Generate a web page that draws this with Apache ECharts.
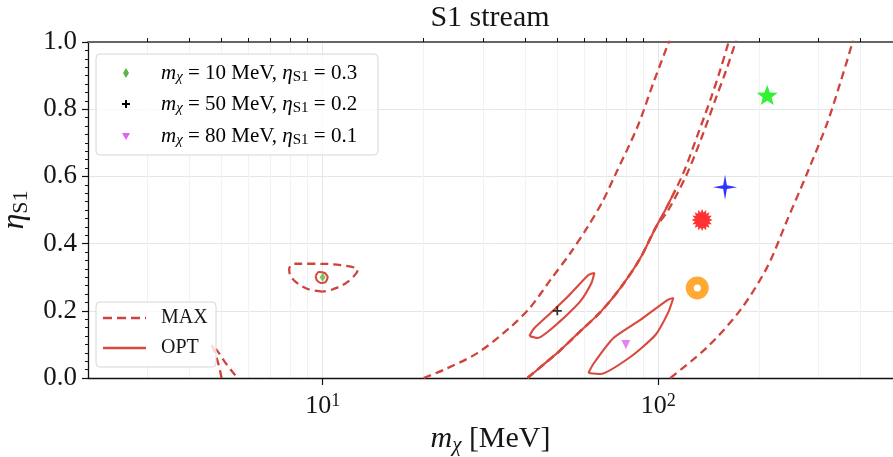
<!DOCTYPE html>
<html>
<head>
<meta charset="utf-8">
<script src="https://cdn.jsdelivr.net/npm/echarts@6/dist/echarts.min.js"></script>
<style>
  html, body { margin: 0; padding: 0; background: #ffffff; }
  #chart { width: 893px; height: 457px; }
</style>
</head>
<body>
<div id="chart"></div>
<script>
// ---- axes ----
const xRange = [2, 500];
const xMinorTicks = [3, 4, 5, 6, 7, 8, 9, 20, 30, 40, 50, 60, 70, 80, 90, 200, 300, 400];
const yRange = [0, 1];
const yStep = 0.2;

// ---- MAX contours (dashed), [m_chi in MeV, eta_S1] ----
const maxSmallLoop = [[10.0, 0.257], [9.02, 0.265], [8.31, 0.286], [7.98, 0.310], [7.95, 0.325],
  [8.25, 0.340], [9.40, 0.340], [11.31, 0.336], [12.71, 0.321], [11.87, 0.286], [10.78, 0.265], [10.0, 0.257]];
const maxLowTip = [[5.0, 0], [4.90, 0.039], [4.77, 0.077], [4.67, 0.098], [4.84, 0.083],
  [5.11, 0.048], [5.36, 0.021], [5.58, 0]];
const maxBandLeft = [[19.98, 0], [22.9, 0.024], [28.9, 0.074], [36.3, 0.152], [41.6, 0.211],
  [47.7, 0.292], [54.7, 0.372], [61.5, 0.449], [68.1, 0.524], [74.5, 0.606], [86.6, 0.747],
  [96.6, 0.878], [107.1, 0.997], [109, 1.02]];
const maxBandMidA = [[40.75, 0], [46.1, 0.045], [51.1, 0.083], [58.6, 0.140], [67.2, 0.196],
  [77.1, 0.268], [88.4, 0.357], [98.0, 0.446], [104.9, 0.500], [118.7, 0.610], [131.5, 0.729],
  [143.8, 0.836], [152.9, 0.917], [161.6, 0.997], [164, 1.02]];
const maxBandMidB = [[40.75, 0], [46.1, 0.045], [51.1, 0.083], [58.6, 0.140], [67.2, 0.196],
  [77.1, 0.268], [88.4, 0.357], [98.0, 0.446], [107.1, 0.500], [122.0, 0.610], [136.1, 0.729],
  [148.8, 0.836], [159.4, 0.917], [169.5, 0.997], [172, 1.02]];
const maxBandRight = [[108.6, 0], [139.9, 0.092], [175.4, 0.202], [211.0, 0.330], [242.0, 0.470],
  [277.6, 0.610], [318.5, 0.759], [348.1, 0.878], [378.0, 0.997], [381, 1.02]];

// ---- OPT contours (solid) ----
const optSmallLoop = [[9.53, 0.3036], [9.73, 0.3155], [10.14, 0.3125], [10.35, 0.3006], [10.21, 0.2857],
  [9.86, 0.2827], [9.60, 0.2917], [9.53, 0.3036]];
const optBandOuter = [[40.75, 0], [46.1, 0.045], [51.1, 0.083], [58.6, 0.140], [67.2, 0.196],
  [77.1, 0.268], [88.4, 0.357], [98.0, 0.446], [104.9, 0.500], [112.3, 0.560]];
const optLoop50 = [[41.3, 0.125], [43.6, 0.119], [51.1, 0.170], [58.6, 0.229], [63.2, 0.283],
  [64.5, 0.3125], [61.9, 0.3065], [53.6, 0.241], [47.7, 0.193], [42.5, 0.146], [41.3, 0.125]];
const optLoop80 = [[61.9, 0.0149], [67.2, 0.0119], [82.5, 0.0625], [98.0, 0.128], [107.1, 0.196],
  [110.8, 0.238], [106.4, 0.232], [88.4, 0.173], [73.5, 0.119], [64.0, 0.0417], [61.9, 0.0149]];

// ---- benchmark points ----
const bench10 = [[10, 0.3]];
const bench50 = [[50, 0.2]];
const bench80 = [[80, 0.1]];
const starPoint = [[211, 0.842]];
const sparklePoint = [[158, 0.568]];
const burstPoint = [[135, 0.470]];
const ringPoint = [[130.6, 0.268]];

// ---- styles ----
const SERIF = 'Liberation Serif';
const INK = '#161616';
const DASH_RED = '#d0433c';
const SOLID_RED = '#d9483c';

function starPath(n, rIn) {
  let d = '';
  for (let k = 0; k < 2 * n; k++) {
    const r = k % 2 ? rIn : 1;
    const a = Math.PI * k / n - Math.PI / 2;
    d += (k ? 'L' : 'M') + (r * Math.cos(a)).toFixed(3) + ',' + (r * Math.sin(a)).toFixed(3);
  }
  return 'path://' + d + 'Z';
}
const PLUS = 'path://M4,0H6V4H10V6H6V10H4V6H0V4H4Z';

function mathRich(size) {
  const sub = Math.round(size * 0.7);
  const drop = Math.round(size * 0.42);
  return {
    n: { fontFamily: SERIF, fontSize: size, color: INK },
    i: { fontFamily: SERIF, fontSize: size, fontStyle: 'italic', color: INK },
    s: { fontFamily: SERIF, fontSize: sub, color: INK, padding: [drop, 0, 0, 0] },
    si: { fontFamily: SERIF, fontSize: sub, fontStyle: 'italic', color: INK, padding: [drop, 0, 0, 0] },
    sup: { fontFamily: SERIF, fontSize: sub, color: INK, padding: [0, 0, drop, 0] }
  };
}

function dashed(data, smooth) {
  return { type: 'line', data, symbol: 'none', smooth: smooth == null ? 0.3 : smooth, silent: true,
    lineStyle: { color: DASH_RED, width: 2.3, type: [8, 5] }, z: 3 };
}
function solid(data, smooth) {
  return { type: 'line', data, symbol: 'none', smooth: smooth, silent: true,
    lineStyle: { color: SOLID_RED, width: 2.1, type: 'solid' }, z: 4 };
}
function point(data, symbol, size, color, extra) {
  return Object.assign({ type: 'scatter', data, symbol, symbolSize: size,
    itemStyle: { color }, z: 6, silent: true }, extra || {});
}

const legendRich = mathRich(21);

const option = {
  animation: false,
  backgroundColor: '#ffffff',
  grid: { left: 88, right: 0, top: 42, bottom: 79, containLabel: false, outerBoundsMode: 'none' },
  xAxis: [
    {
      type: 'log', min: xRange[0], max: xRange[1], logBase: 10,
      axisLine: { show: true, lineStyle: { color: '#111', width: 1.3 } },
      axisTick: { show: true, length: 7, lineStyle: { color: '#111', width: 1.2 } },
      axisLabel: {
        margin: 14, showMinLabel: false, showMaxLabel: false,
        formatter: v => {
          const e = Math.log10(v);
          return Math.abs(e - Math.round(e)) < 1e-6 ? '{n|10}{sup|' + Math.round(e) + '}' : '';
        },
        rich: mathRich(26)
      },
      splitLine: { show: true, lineStyle: { color: '#e6e6e6', width: 1 } },
      name: '{i|m}{si|χ}{n| [MeV]}', nameLocation: 'middle', nameGap: 44,
      nameTextStyle: { rich: mathRich(30) }
    },
    {
      type: 'log', min: xRange[0], max: xRange[1], logBase: 10,
      axisLine: { show: false },
      axisTick: { show: true, length: 4, customValues: xMinorTicks, lineStyle: { color: '#111', width: 1 } },
      axisLabel: { show: false },
      splitLine: { show: true, lineStyle: { color: '#f2f2f2', width: 1 } }
    },
    {
      type: 'log', min: xRange[0], max: xRange[1], position: 'top',
      axisLine: { show: true, lineStyle: { color: '#666', width: 2 } },
      axisTick: { show: false }, axisLabel: { show: false }, splitLine: { show: false }
    }
  ],
  yAxis: {
    type: 'value', min: yRange[0], max: yRange[1], interval: yStep,
    axisLine: { show: true, lineStyle: { color: '#111', width: 1.3 } },
    axisTick: { show: true, length: 6, lineStyle: { color: '#111', width: 1.2 } },
    minorTick: { show: true, splitNumber: 8, length: 3, lineStyle: { color: '#111', width: 1 } },
    axisLabel: { margin: 11, formatter: v => v.toFixed(1), fontFamily: SERIF, fontSize: 27, color: INK },
    splitLine: { show: true, lineStyle: { color: '#e6e6e6', width: 1 } },
    name: '{i|η}{s|S1}', nameLocation: 'middle', nameGap: 52, nameRotate: 90,
    nameTextStyle: { rich: mathRich(32) }
  },
  series: [
    dashed(maxSmallLoop, 0.35),
    dashed(maxLowTip),
    dashed(maxBandLeft),
    dashed(maxBandMidA),
    dashed(maxBandMidB),
    dashed(maxBandRight),
    solid(optSmallLoop, 0.2),
    solid(optBandOuter, 0.3),
    solid(optLoop50, 0.2),
    solid(optLoop80, 0.2),
    point(bench10, 'diamond', [6, 9], '#5db548'),
    point(bench50, PLUS, 9, '#000000'),
    point(bench80, 'triangle', [9, 9], '#e060f0', { symbolRotate: 180 }),
    point(starPoint, starPath(5, 0.42), [21, 20], '#00ee00'),
    point(sparklePoint, starPath(4, 0.22), [24, 25], '#0000ff'),
    point(burstPoint, starPath(16, 0.7), [21, 22], '#ff0000'),
    point(ringPoint, 'circle', 15, '#ffffff', { itemStyle: { color: '#ffffff', borderColor: '#ff9500', borderWidth: 8 } })
  ],
  graphic: [
    { type: 'text', z: 100, style: { text: 'S1 stream', x: 490, y: 18, align: 'center', verticalAlign: 'middle',
      fontFamily: SERIF, fontSize: 30, fill: INK } },
    // benchmark legend
    { type: 'rect', z: 100, shape: { x: 96, y: 54, width: 282, height: 101, r: 4 },
      style: { fill: 'rgba(255,255,255,0.8)', stroke: '#d6d6d6', lineWidth: 1 } },
    { type: 'polygon', z: 101, shape: { points: [[126, 68], [129, 73], [126, 78], [123, 73]] }, style: { fill: '#5db548' } },
    { type: 'rect', z: 101, shape: { x: 122, y: 103, width: 8, height: 2 }, style: { fill: '#000' } },
    { type: 'rect', z: 101, shape: { x: 125, y: 100, width: 2, height: 8 }, style: { fill: '#000' } },
    { type: 'polygon', z: 101, shape: { points: [[122, 133], [130, 133], [126, 140]] }, style: { fill: '#e060f0' } },
    { type: 'text', z: 101, style: { text: '{i|m}{si|χ}{n| = 10 MeV, }{i|η}{s|S1}{n| = 0.3}', x: 161, y: 73,
      verticalAlign: 'middle', rich: legendRich } },
    { type: 'text', z: 101, style: { text: '{i|m}{si|χ}{n| = 50 MeV, }{i|η}{s|S1}{n| = 0.2}', x: 161, y: 104,
      verticalAlign: 'middle', rich: legendRich } },
    { type: 'text', z: 101, style: { text: '{i|m}{si|χ}{n| = 80 MeV, }{i|η}{s|S1}{n| = 0.1}', x: 161, y: 136,
      verticalAlign: 'middle', rich: legendRich } },
    // contour legend
    { type: 'rect', z: 100, shape: { x: 96, y: 302, width: 120, height: 65, r: 4 },
      style: { fill: 'rgba(255,255,255,0.8)', stroke: '#d6d6d6', lineWidth: 1 } },
    { type: 'line', z: 101, shape: { x1: 103, y1: 318, x2: 146, y2: 318 },
      style: { stroke: DASH_RED, lineWidth: 2.3, lineDash: [9, 5] } },
    { type: 'line', z: 101, shape: { x1: 103, y1: 348, x2: 146, y2: 348 },
      style: { stroke: SOLID_RED, lineWidth: 2.3 } },
    { type: 'text', z: 101, style: { text: 'MAX', x: 161, y: 318, verticalAlign: 'middle',
      fontFamily: SERIF, fontSize: 20, fill: INK } },
    { type: 'text', z: 101, style: { text: 'OPT', x: 161, y: 348, verticalAlign: 'middle',
      fontFamily: SERIF, fontSize: 20, fill: INK } }
  ]
};

const chart = echarts.init(document.getElementById('chart'), null, { renderer: 'canvas' });
chart.setOption(option);
</script>
</body>
</html>
